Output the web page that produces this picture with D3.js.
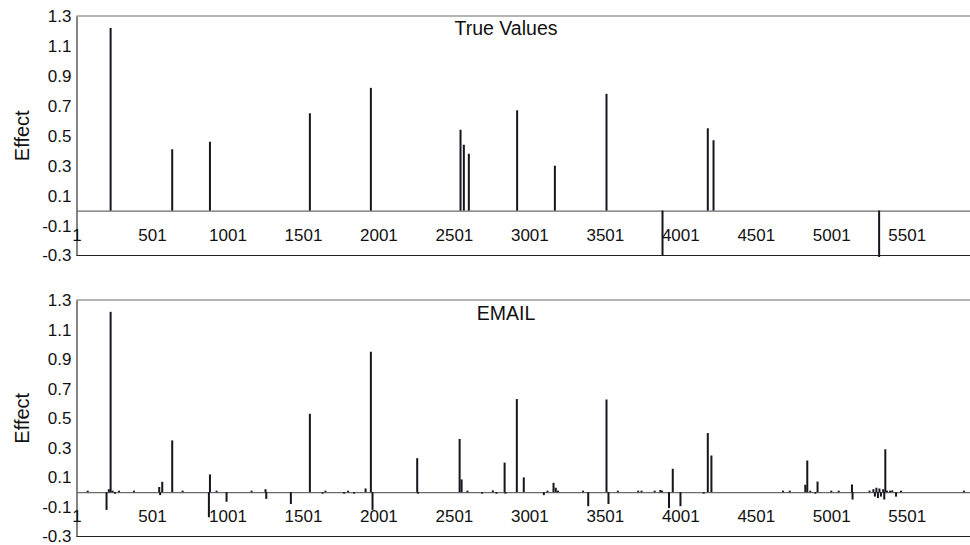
<!DOCTYPE html>
<html lang="en">

<head>
    <meta charset="UTF-8">
    <title>True Values vs EMAIL</title>
    <style>
        * {
            margin: 0;
            padding: 0;
        }

        html,
        body {
            overflow: hidden;
            background: #fff;
        }

        text {
            font-family: "Liberation Sans", Arial, sans-serif;
        }
    </style>
</head>

<body>
    <div id="chart"></div>
    <script src="https://cdn.jsdelivr.net/npm/d3@7"></script>
    <script>
        // index of the effect (1..~5920) and its value
        const trueIdx = [227, 635, 885, 1547, 1951, 2545, 2567, 2600, 2920, 3170, 3512, 3883, 4183, 4221, 5318]
        const trueVal = [1.22, 0.41, 0.46, 0.65, 0.82, 0.54, 0.44, 0.38, 0.67, 0.30, 0.78, -0.30, 0.55, 0.47, -0.31]

        const emailIdx = [75, 200, 215, 227, 240, 256, 283, 382, 549, 555, 569, 635, 704, 878, 885, 929, 995,
            1161, 1253, 1258, 1421, 1547, 1631, 1650, 1774, 1800, 1840, 1916, 1951, 1962, 2258, 2263, 2539,
            2552, 2591, 2688, 2759, 2783, 2837, 2843, 2918, 2964, 3097, 3121, 3161, 3176, 3191, 3357, 3391,
            3512, 3525, 3587, 3722, 3744, 3831, 3869, 3880, 3926, 3951, 4002, 4156, 4183, 4207, 4681, 4726,
            4829, 4842, 4862, 4895, 4910, 5001, 5050, 5138, 5142, 5255, 5280, 5290, 5300, 5310, 5320, 5330,
            5345, 5352, 5359, 5370, 5390, 5405, 5430, 5463, 5880]
        const emailVal = [0.01, -0.12, 0.02, 1.22, 0.01, -0.01, 0.01, 0.01, 0.035, -0.02, 0.07, 0.35, 0.01, -0.17, 0.12, 0.01, -0.065,
            0.01, 0.02, -0.045, -0.08, 0.53, -0.01, 0.01, -0.01, 0.01, -0.01, 0.025, 0.95, -0.12, 0.23, -0.01, 0.36,
            0.086, 0.01, -0.01, 0.012, -0.01, 0.20, -0.01, 0.63, 0.10, -0.02, 0.01, 0.063, 0.03, 0.01, 0.01, -0.095,
            0.627, -0.08, 0.01, 0.01, 0.01, 0.01, 0.015, 0.01, -0.108, 0.158, -0.095, -0.01, 0.40, 0.248, 0.01, 0.01,
            0.05, 0.214, 0.01, -0.01, 0.072, 0.01, 0.01, 0.052, -0.05, 0.01, 0.02, -0.03, 0.03, -0.04, 0.025, -0.03,
            0.02, -0.05, 0.29, 0.01, 0.01, 0.012, -0.03, 0.01, 0.01]

        const xTicks = [1, 501, 1001, 1501, 2001, 2501, 3001, 3501, 4001, 4501, 5001, 5501]
        const yTicks = [-0.3, -0.1, 0.1, 0.3, 0.5, 0.7, 0.9, 1.1, 1.3]
        const panelTitles = ['True Values', 'EMAIL']

        function drawChart() {
            const width = 970
            const height = 545
            const svg = d3.select('#chart')
                .append('svg')
                .attr('width', width)
                .attr('height', height)
                .style('background', '#fff')

            const x = d3.scaleLinear().domain([1, 5920]).range([76.5, 970])
            const gray = '#6b6b6b'
            const fmtY = d => d3.format('.1f')(d).replace('−', '-')

            const panels = [
                { top: 16, bottom: 255.5, idx: trueIdx, val: trueVal, title: panelTitles[0], titleY: 35 },
                { top: 300, bottom: 536.5, idx: emailIdx, val: emailVal, title: panelTitles[1], titleY: 320 }
            ]

            panels.forEach(p => {
                const y = d3.scaleLinear().domain([-0.3, 1.3]).range([p.bottom, p.top])
                const g = svg.append('g')

                // frame lines top & bottom
                g.append('line')
                    .attr('x1', 76.5).attr('x2', width)
                    .attr('y1', p.top).attr('y2', p.top)
                    .attr('stroke', gray).attr('stroke-width', 1.2)
                g.append('line')
                    .attr('x1', 76.5).attr('x2', width)
                    .attr('y1', p.bottom).attr('y2', p.bottom)
                    .attr('stroke', '#222').attr('stroke-width', 1.2)

                // y axis
                const yAxis = g.append('g')
                    .attr('transform', 'translate(76.5,0)')
                    .call(d3.axisLeft(y).tickValues(yTicks).tickSize(0).tickPadding(5).tickFormat(fmtY))
                yAxis.select('.domain').attr('stroke', '#333').attr('stroke-width', 1.2)
                yAxis.selectAll('text')
                    .attr('font-size', 17)
                    .attr('fill', '#111')
                    .style('font-family', '"Liberation Sans", Arial, sans-serif')

                // x axis along zero line
                const xAxis = g.append('g')
                    .attr('transform', `translate(0,${y(0)})`)
                    .call(d3.axisBottom(x).tickValues(xTicks).tickSize(0).tickPadding(18)
                        .tickFormat(d3.format('d')))
                xAxis.select('.domain').attr('stroke', gray).attr('stroke-width', 1.2)
                xAxis.selectAll('text')
                    .attr('font-size', 17)
                    .attr('fill', '#111')
                    .style('font-family', '"Liberation Sans", Arial, sans-serif')

                // bars
                const data = p.idx.map((d, i) => ({ i: d, v: p.val[i] }))
                g.selectAll('rect.bar')
                    .data(data)
                    .join('rect')
                    .attr('class', 'bar')
                    .attr('x', d => x(d.i) - 1)
                    .attr('width', 2)
                    .attr('y', d => Math.min(y(d.v), y(0)))
                    .attr('height', d => Math.max(Math.abs(y(d.v) - y(0)), 1.5))
                    .attr('fill', '#15151f')

                // title
                g.append('text')
                    .attr('x', 506)
                    .attr('y', p.titleY)
                    .attr('text-anchor', 'middle')
                    .attr('font-size', 19.5)
                    .attr('fill', '#111')
                    .text(p.title)

                // y label
                g.append('text')
                    .attr('transform', `translate(29,${(p.top + p.bottom) / 2}) rotate(-90)`)
                    .attr('text-anchor', 'middle')
                    .attr('font-size', 20)
                    .attr('fill', '#111')
                    .text('Effect')
            })
        }

        drawChart()
    </script>
</body>

</html>
